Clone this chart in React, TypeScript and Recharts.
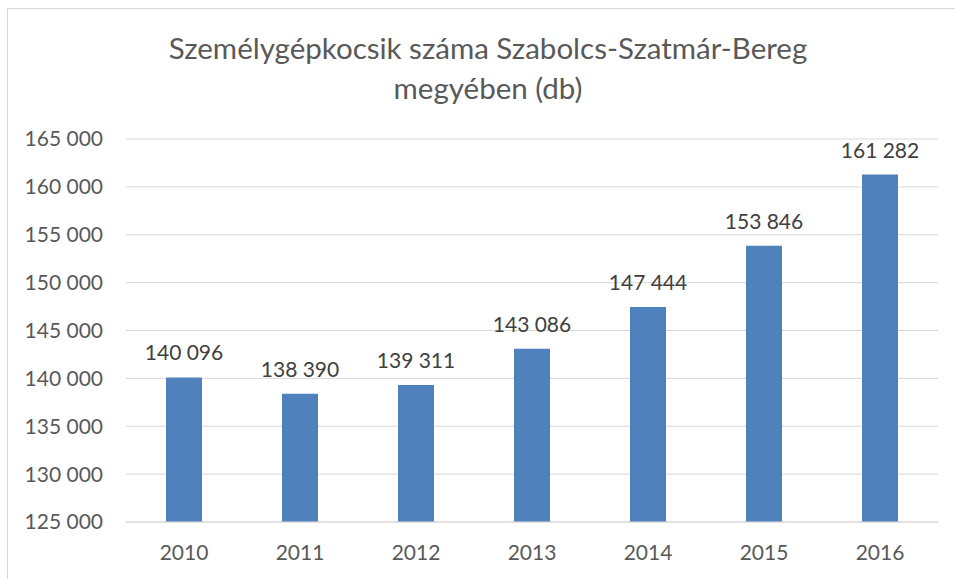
import React from 'react';
import { BarChart, Bar, XAxis, YAxis, CartesianGrid, LabelList } from 'recharts';

const years = ['2010', '2011', '2012', '2013', '2014', '2015', '2016'];
const cars = [140096, 138390, 139311, 143086, 147444, 153846, 161282];
const yTicks = [125000, 130000, 135000, 140000, 145000, 150000, 155000, 160000, 165000];
const titleLines = ['Személygépkocsik száma Szabolcs-Szatmár-Bereg', 'megyében (db)'];

const data = years.map((y, i) => ({ year: y, value: cars[i] }));

const fmt = (v: number) => {
  const s = Math.round(v).toString();
  return s.replace(/\B(?=(\d{3})+(?!\d))/g, ' ');
};

const FONT = 'Lato, "Open Sans", sans-serif';

const ValueLabel = (props: any) => {
  const { x, y, width, value } = props;
  return (
    <text
      x={Number(x) + Number(width) / 2}
      y={Number(y) - 17}
      textAnchor="middle"
      fontFamily={FONT}
      fontSize={21}
      fill="#404040"
    >
      {fmt(Number(value))}
    </text>
  );
};

export default function App() {
  return (
    <div style={{ position: 'absolute', left: 0, top: 0, width: 955, height: 579, overflow: 'hidden', background: '#fff' }}>
      <div
        style={{
          position: 'absolute',
          left: 7,
          top: 8,
          width: 948,
          height: 571,
          borderTop: '1px solid #d9d9d9',
          borderLeft: '1px solid #d9d9d9',
          boxSizing: 'border-box',
        }}
      />
      <div
        style={{
          position: 'absolute',
          left: 0,
          top: 28,
          width: 976,
          textAlign: 'center',
          fontFamily: FONT,
          fontSize: 29.5,
          lineHeight: '40px',
          color: '#595959',
          whiteSpace: 'nowrap',
        }}
      >
        {titleLines.map((t) => (
          <div key={t}>{t}</div>
        ))}
      </div>
      <div style={{ position: 'absolute', left: 0, top: 0 }}>
        <BarChart
          width={955}
          height={579}
          data={data}
          margin={{ top: 139, right: 17, bottom: 0, left: 0 }}
          barCategoryGap={40}
        >
          <CartesianGrid vertical={false} stroke="#d9d9d9" />
          <XAxis
            dataKey="year"
            height={57}
            tickSize={0}
            tickMargin={23}
            axisLine={{ stroke: '#d9d9d9' }}
            tickLine={false}
            tick={{ fontFamily: FONT, fontSize: 21, fill: '#595959' }}
          />
          <YAxis
            width={126}
            domain={[125000, 165000]}
            ticks={yTicks}
            tickFormatter={fmt}
            tickSize={0}
            tickMargin={23}
            axisLine={false}
            tickLine={false}
            tick={{ fontFamily: FONT, fontSize: 21, fill: '#595959' }}
          />
          <Bar dataKey="value" fill="#4F81BD" isAnimationActive={false}>
            <LabelList dataKey="value" content={ValueLabel} />
          </Bar>
        </BarChart>
      </div>
    </div>
  );
}
